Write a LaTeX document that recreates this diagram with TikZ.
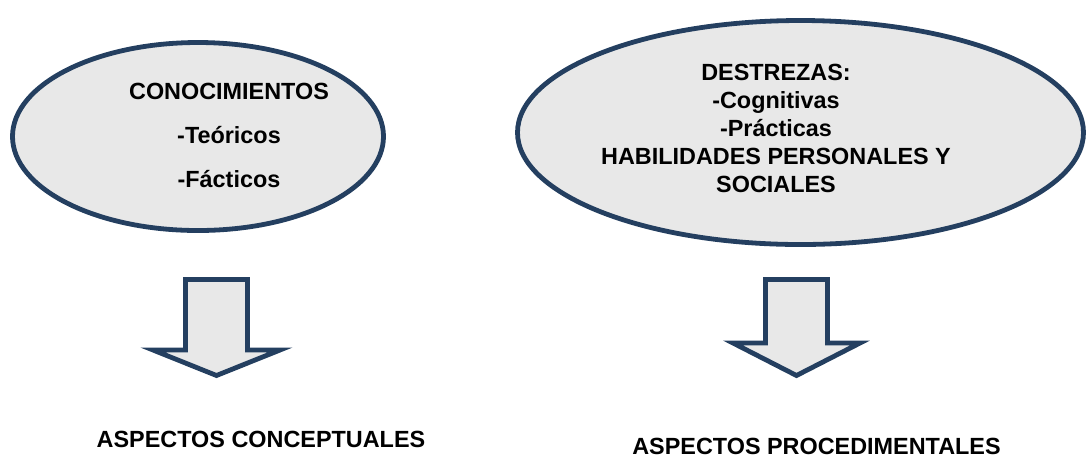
\documentclass[tikz,border=0pt]{standalone}
\usepackage{fontspec}
\setmainfont{Liberation Sans}
\usepackage{tikz}

\definecolor{borde}{HTML}{243F60}
\definecolor{relleno}{HTML}{E8E8E8}

\begin{document}
\begin{tikzpicture}[x=0.5pt,y=-0.5pt,
  forma/.style={draw=borde,fill=relleno,line width=2.4pt,line join=miter},
  texto/.style={font=\bfseries\fontsize{11.7}{14}\selectfont,align=center,inner sep=0pt}]
\useasboundingbox (0,0) rectangle (1086,457);
\draw[forma] (198,136.5) ellipse[x radius=185.5,y radius=94];
\draw[forma] (800.5,132.5) ellipse[x radius=283,y radius=112];
% The block arrows
\draw[forma] (185.5,279.5) -- (247.5,279.5) -- (247.5,350) -- (280,350) -- (216.5,375.5) -- (153,350) -- (185.5,350) -- cycle;
\draw[forma] (765.5,279.5) -- (827.5,279.5) -- (827.5,343) -- (860,343) -- (796.5,375.5) -- (733,343) -- (765.5,343) -- cycle;
% The texts
\node[texto,anchor=base] (conoc) at (229,99) {CONOCIMIENTOS};
\node[texto,anchor=base] (teor) at (229,143) {-Teóricos};
\node[texto,anchor=base] (fact) at (229,187) {-Fácticos};
\node[texto,anchor=north] (destr) at (776,63.4) {DESTREZAS:\\-Cognitivas\\-Prácticas\\HABILIDADES PERSONALES Y\\SOCIALES};
\node[texto,anchor=base] (concep) at (261,447) {ASPECTOS CONCEPTUALES};
\node[texto,anchor=base] (proced) at (816.5,454) {ASPECTOS PROCEDIMENTALES};
\end{tikzpicture}
\end{document}
